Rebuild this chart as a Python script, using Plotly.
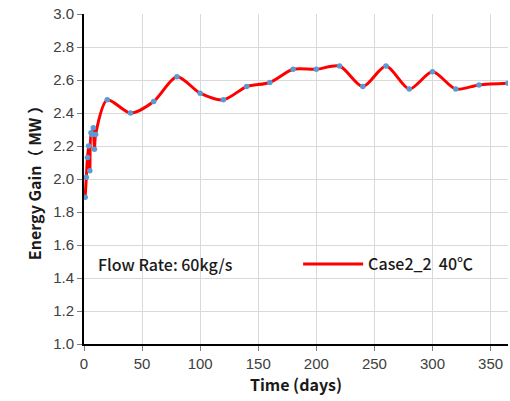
import plotly.graph_objects as go

days = [1, 2, 3, 4, 5, 6, 7, 8, 9, 10, 20, 40, 60, 80, 100, 120, 140, 160, 180, 200,
        220, 240, 260, 280, 300, 320, 340, 365]
energy_gain = [1.89, 2.01, 2.13, 2.20, 2.05, 2.28, 2.27, 2.31, 2.18, 2.27, 2.48, 2.40,
               2.47, 2.62, 2.52, 2.48, 2.56, 2.585, 2.665, 2.665, 2.685, 2.56, 2.685,
               2.545, 2.65, 2.545, 2.57, 2.58]
series_name = "Case2_2\u00a0\u00a040℃"
note_text = "Flow Rate: 60kg/s"

title_font = "Noto Sans CJK SC, Microsoft YaHei, sans-serif"
tick_font = "Liberation Sans, Arial, sans-serif"

fig = go.Figure()
fig.add_trace(go.Scatter(
    x=days, y=energy_gain, mode="lines", name=series_name,
    line=dict(color="#FF0000", width=3, shape="spline", smoothing=0.8),
))
fig.add_trace(go.Scatter(
    x=days, y=energy_gain, mode="markers", showlegend=False,
    marker=dict(color="#5B9BD5", size=5.5),
))

fig.update_layout(
    width=510, height=401,
    margin=dict(l=84, r=2, t=14, b=57),
    paper_bgcolor="white", plot_bgcolor="white",
    showlegend=True,
    legend=dict(x=0.505, y=0.242, xanchor="left", yanchor="middle",
                bgcolor="rgba(0,0,0,0)", itemwidth=60,
                font=dict(family=title_font, size=16, color="#1a1a1a", weight=500)),
    annotations=[dict(text=note_text, xref="paper", yref="paper", x=0.028, y=0.242,
                      xanchor="left", yanchor="middle", showarrow=False,
                      font=dict(family=title_font, size=16, color="#1a1a1a", weight=500))],
)
fig.update_xaxes(
    range=[0, 365], dtick=50, tick0=0,
    showgrid=True, gridcolor="#D9D9D9", gridwidth=1,
    showline=True, linecolor="black", linewidth=2,
    ticks="outside", ticklen=5, tickcolor="#7f7f7f",
    tickfont=dict(family=tick_font, size=15, color="#404040"),
    title=dict(text="<b>Time (days)</b>", standoff=6,
               font=dict(family=title_font, size=16, color="#1a1a1a")),
    zeroline=False,
)
fig.update_yaxes(
    range=[1.0, 3.0], dtick=0.2, tick0=1.0, tickformat=".1f",
    showgrid=True, gridcolor="#D9D9D9", gridwidth=1,
    showline=True, linecolor="black", linewidth=2,
    ticks="outside", ticklen=5, tickcolor="#7f7f7f",
    tickfont=dict(family=tick_font, size=15, color="#404040"),
    title=dict(text="<b>Energy Gain（ MW ）</b>", standoff=8,
               font=dict(family=title_font, size=16, color="#1a1a1a")),
    zeroline=False,
)

fig.write_html("out.html")
